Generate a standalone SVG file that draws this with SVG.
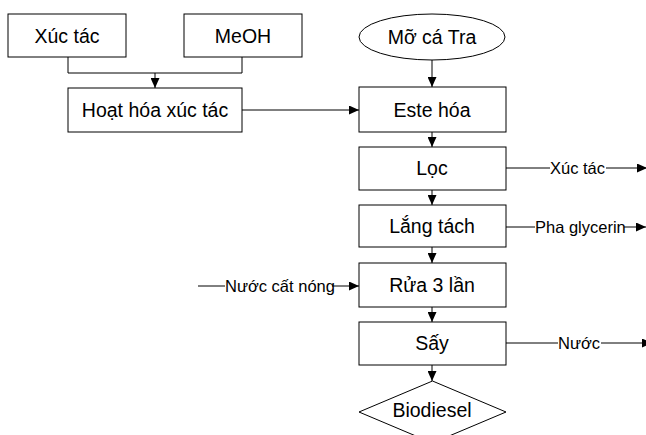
<svg xmlns="http://www.w3.org/2000/svg" width="646" height="435" viewBox="0 0 646 435">
<defs>
<marker id="ah" viewBox="0 0 10 9" refX="10" refY="4.5" markerWidth="10" markerHeight="9" markerUnits="userSpaceOnUse" orient="auto">
<path d="M0,0 L10,4.5 L0,9 Z" fill="#000"/>
</marker>
</defs>
<style>
.box{fill:#fff;stroke:#000;stroke-width:1}
.t{font-family:"Liberation Sans",Arial,sans-serif;font-size:19.5px;fill:#000;text-anchor:middle;dominant-baseline:central}
.s{font-family:"Liberation Sans",Arial,sans-serif;font-size:16.5px;fill:#000;dominant-baseline:central}
.c{fill:none;stroke:#000;stroke-width:1}
.a{marker-end:url(#ah)}
</style>
<rect width="646" height="435" fill="#fff"/>
<g id="connectors">
<polyline class="c" points="68,57 68,73 242,73 242,57"/>
<line class="c a" x1="155" y1="73" x2="155" y2="88"/>
<line class="c a" x1="242" y1="110" x2="359" y2="110"/>
<line class="c a" x1="432" y1="60" x2="432" y2="87"/>
<line class="c a" x1="432" y1="132" x2="432" y2="147"/>
<line class="c a" x1="432" y1="190" x2="432" y2="205"/>
<line class="c a" x1="432" y1="247" x2="432" y2="263"/>
<line class="c a" x1="432" y1="307" x2="432" y2="322"/>
<line class="c a" x1="432" y1="365" x2="432" y2="381"/>
<line class="c" x1="506" y1="168" x2="550" y2="168"/>
<line class="c a" x1="606" y1="168" x2="647" y2="168"/>
<line class="c" x1="506" y1="227" x2="535" y2="227"/>
<line class="c a" x1="624" y1="227" x2="646" y2="227"/>
<line class="c" x1="198" y1="286" x2="225" y2="286"/>
<line class="c a" x1="332" y1="286" x2="359" y2="286"/>
<line class="c" x1="506" y1="343" x2="558" y2="343"/>
<line class="c a" x1="601" y1="343" x2="652" y2="343"/>
<text class="s" x="550" y="168">Xúc tác</text>
<text class="s" x="535" y="227">Pha glycerin</text>
<text class="s" x="225" y="286">Nước cất nóng</text>
<text class="s" x="558" y="343">Nước</text>
</g>
<g id="xuctac"><rect class="box" x="8" y="14" width="118" height="43"/><text class="t" x="67" y="36">Xúc tác</text></g>
<g id="meoh"><rect class="box" x="184" y="14" width="118" height="43"/><text class="t" x="243" y="36">MeOH</text></g>
<g id="hoathoa"><rect class="box" x="68" y="88" width="174" height="44"/><text class="t" x="155" y="110">Hoạt hóa xúc tác</text></g>
<g id="moca"><ellipse class="box" cx="432" cy="37" rx="73" ry="23"/><text class="t" x="432" y="37">Mỡ cá Tra</text></g>
<g id="estehoa"><rect class="box" x="359" y="87" width="147" height="45"/><text class="t" x="432" y="110">Este hóa</text></g>
<g id="loc"><rect class="box" x="359" y="147" width="147" height="43"/><text class="t" x="432" y="168">Lọc</text></g>
<g id="langtach"><rect class="box" x="359" y="205" width="147" height="42"/><text class="t" x="432" y="226">Lắng tách</text></g>
<g id="rua"><rect class="box" x="359" y="263" width="147" height="44"/><text class="t" x="432" y="285">Rửa 3 lần</text></g>
<g id="say"><rect class="box" x="359" y="322" width="147" height="43"/><text class="t" x="432" y="343">Sấy</text></g>
<g id="biodiesel"><polygon class="box" points="432.5,381 506,412 432.5,443 359,412"/><text class="t" x="432" y="410">Biodiesel</text></g>
</svg>
